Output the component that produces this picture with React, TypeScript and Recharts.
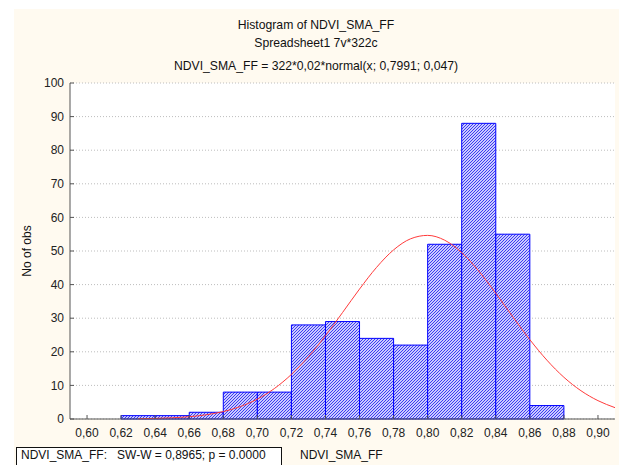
import React from "react";
import {
  ComposedChart,
  Line,
  XAxis,
  YAxis,
  CartesianGrid,
  ReferenceArea,
} from "recharts";

// Histogram bins (lower edge, upper edge, count)
const binLower = [0.62, 0.64, 0.66, 0.68, 0.7, 0.72, 0.74, 0.76, 0.78, 0.8, 0.82, 0.84, 0.86];
const binUpper = [0.64, 0.66, 0.68, 0.7, 0.72, 0.74, 0.76, 0.78, 0.8, 0.82, 0.84, 0.86, 0.88];
const binCounts = [1, 1, 2, 8, 8, 28, 29, 24, 22, 52, 88, 55, 4];

// Fitted normal curve
const curveX = [
  0.63, 0.64, 0.65, 0.66, 0.67, 0.68, 0.69, 0.7, 0.71, 0.72, 0.73, 0.74, 0.75, 0.76, 0.77,
  0.78, 0.79, 0.8, 0.81, 0.82, 0.83, 0.84, 0.85, 0.86, 0.87, 0.88, 0.89, 0.9, 0.91,
];
const curveY = [
  0.08, 0.18, 0.36, 0.68, 1.26, 2.2, 3.7, 5.92, 9.06, 13.27, 18.55, 24.79, 31.67, 38.67, 45.13,
  50.33, 53.64, 54.65, 53.21, 49.52, 44.04, 37.43, 30.41, 23.61, 17.52, 12.42, 8.42, 5.46, 3.38,
];

const xTicks = [0.6, 0.62, 0.64, 0.66, 0.68, 0.7, 0.72, 0.74, 0.76, 0.78, 0.8, 0.82, 0.84, 0.86, 0.88, 0.9];
const yTicks = [0, 10, 20, 30, 40, 50, 60, 70, 80, 90, 100];

const titleLines = [
  "Histogram of NDVI_SMA_FF",
  "Spreadsheet1 7v*322c",
  "NDVI_SMA_FF = 322*0,02*normal(x; 0,7991; 0,047)",
];
const xLabel = "NDVI_SMA_FF";
const yLabel = "No of obs";
const testText = "NDVI_SMA_FF:   SW-W = 0,8965; p = 0.0000";

const data = curveX.map((x, i) => ({ x, y: curveY[i] }));

const FONT = "'Liberation Sans', Arial, sans-serif";
const AXIS = "#555555";

export default function App() {
  return (
    <div
      style={{
        position: "absolute",
        left: 0,
        top: 0,
        width: 619,
        height: 465,
        background: "#ffffff",
        overflow: "hidden",
        fontFamily: FONT,
      }}
    >
      <div
        style={{
          position: "absolute",
          left: 14,
          top: 9,
          right: 0,
          bottom: 0,
          background: "#fffaf0",
        }}
      />
      <div style={{ position: "absolute", left: 0, top: 0 }}>
        <ComposedChart
          width={619}
          height={465}
          data={data}
          margin={{ top: 83, right: 4, left: 8, bottom: 16 }}
        >
          <defs>
            <pattern
              id="hatch"
              patternUnits="userSpaceOnUse"
              x={0}
              y={0}
              width={3}
              height={3}
            >
              <rect x={0} y={0} width={3} height={3} fill="#cacaff" />
              <rect x={2} y={0} width={1} height={1} fill="#3c3cf0" />
              <rect x={1} y={1} width={1} height={1} fill="#3c3cf0" />
              <rect x={0} y={2} width={1} height={1} fill="#3c3cf0" />
            </pattern>
          </defs>
          <CartesianGrid
            vertical={false}
            fill="#ffffff"
            stroke="#bdbdbd"
            strokeDasharray="1 2"
          />
          <XAxis
            type="number"
            dataKey="x"
            domain={[0.59, 0.91]}
            allowDataOverflow
            ticks={xTicks}
            interval={0}
            tickFormatter={(v: number) => v.toFixed(2).replace(".", ",")}
            height={30}
            tickSize={-4}
            tickMargin={13}
            tickLine={{ stroke: AXIS }}
            axisLine={{ stroke: AXIS }}
            tick={{ fill: "#222", fontSize: 12, fontFamily: FONT }}
          />
          <XAxis
            xAxisId="top"
            orientation="top"
            type="number"
            dataKey="x"
            domain={[0.59, 0.91]}
            allowDataOverflow
            ticks={xTicks}
            interval={0}
            height={0}
            tickSize={-4}
            tick={false}
            tickLine={{ stroke: AXIS }}
            axisLine={{ stroke: "#333" }}
          />
          <YAxis
            type="number"
            domain={[0, 100]}
            ticks={yTicks}
            interval={0}
            width={62}
            tickSize={-4}
            tickMargin={10}
            tickLine={{ stroke: AXIS }}
            axisLine={{ stroke: AXIS }}
            tick={{ fill: "#222", fontSize: 12, fontFamily: FONT }}
          />
          <YAxis
            yAxisId="right"
            orientation="right"
            type="number"
            domain={[0, 100]}
            ticks={yTicks}
            interval={0}
            width={0}
            tickSize={-4}
            tick={false}
            tickLine={{ stroke: AXIS }}
            axisLine={{ stroke: "#777" }}
          />
          {binCounts.map((c, i) => (
            <ReferenceArea
              key={i}
              x1={binLower[i]}
              x2={binUpper[i]}
              y1={0}
              y2={c}
              fill="url(#hatch)"
              fillOpacity={1}
              stroke="#0000ff"
              strokeWidth={1}
              strokeOpacity={1}
            />
          ))}
          <Line
            type="monotone"
            dataKey="y"
            stroke="#ff3b3b"
            strokeWidth={1}
            dot={false}
            activeDot={false}
            isAnimationActive={false}
          />
        </ComposedChart>
      </div>
      {titleLines.map((t, i) => (
        <div
          key={i}
          style={{
            position: "absolute",
            left: 0,
            width: 632,
            top: [17, 35, 58][i],
            textAlign: "center",
            fontSize: 12.2,
            color: "#111",
            whiteSpace: "nowrap",
            lineHeight: "16px",
          }}
        >
          {t}
        </div>
      ))}
      <div
        style={{
          position: "absolute",
          left: 27,
          top: 251,
          transform: "translate(-50%, -50%) rotate(-90deg)",
          fontSize: 12,
          color: "#111",
          whiteSpace: "nowrap",
          lineHeight: "14px",
        }}
      >
        {yLabel}
      </div>
      <div
        style={{
          position: "absolute",
          left: 16,
          top: 447,
          width: 266,
          height: 24,
          border: "1px solid #111",
          background: "#ffffff",
          boxSizing: "border-box",
        }}
      />
      <div
        style={{
          position: "absolute",
          left: 21,
          top: 447,
          fontSize: 12,
          color: "#111",
          whiteSpace: "pre",
          lineHeight: "16px",
        }}
      >
        {testText}
      </div>
      <div
        style={{
          position: "absolute",
          left: 300,
          top: 447,
          fontSize: 12,
          color: "#111",
          whiteSpace: "nowrap",
          lineHeight: "16px",
        }}
      >
        {xLabel}
      </div>
    </div>
  );
}
